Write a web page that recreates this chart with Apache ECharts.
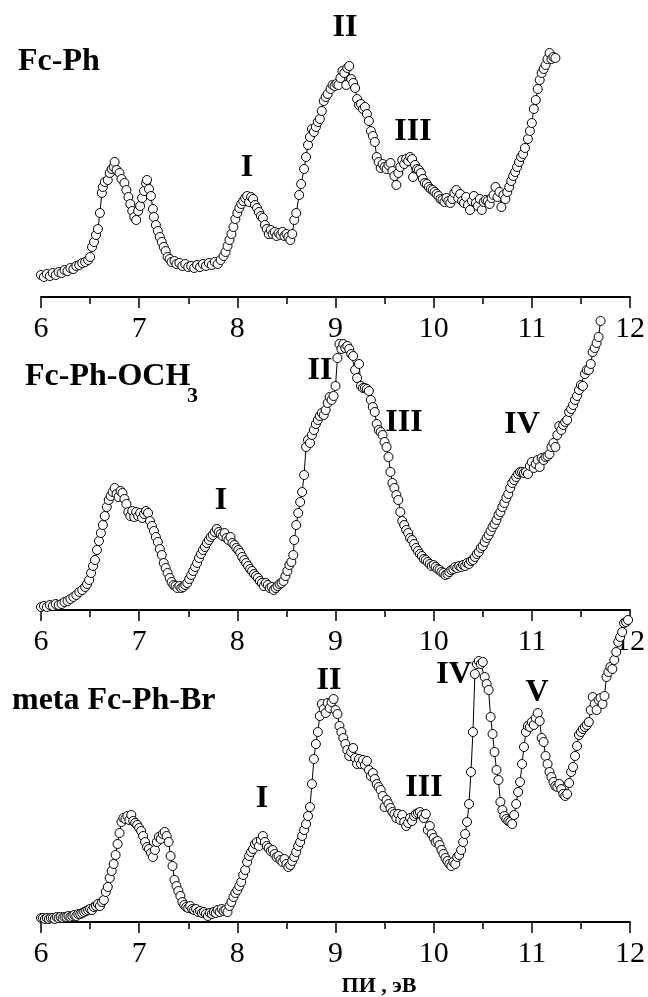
<!DOCTYPE html>
<html>
<head>
<meta charset="utf-8">
<script src="https://cdn.jsdelivr.net/npm/echarts@6/dist/echarts.min.js"></script>
<style>
  html, body { margin: 0; padding: 0; background: #fff; }
  #chart { width: 648px; height: 997px; }
</style>
</head>
<body>
<div id="chart"></div>
<script>
// Photoionization spectra, energy in eV; intensity in arbitrary units.
const ticksEV = [6, 7, 8, 9, 10, 11, 12];

const fcPhX = [6.00,6.03,6.06,6.09,6.12,6.15,6.18,6.21,6.24,6.27,6.30,6.33,6.36,6.39,6.42,6.45,6.48,6.50,6.52,6.54,6.56,6.58,6.60,6.62,6.63,6.65,6.68,6.70,6.72,6.74,6.75,6.77,6.80,6.82,6.85,6.87,6.89,6.91,6.93,6.95,6.97,6.99,7.01,7.03,7.05,7.07,7.08,7.10,7.12,7.14,7.15,7.17,7.19,7.21,7.23,7.25,7.27,7.29,7.31,7.33,7.36,7.38,7.41,7.44,7.47,7.50,7.53,7.56,7.59,7.62,7.65,7.68,7.71,7.74,7.77,7.80,7.83,7.86,7.88,7.90,7.92,7.94,7.96,7.98,8.00,8.02,8.04,8.06,8.08,8.10,8.12,8.14,8.16,8.18,8.20,8.22,8.24,8.26,8.28,8.30,8.32,8.34,8.36,8.38,8.40,8.42,8.44,8.46,8.48,8.50,8.52,8.54,8.56,8.58,8.60,8.63,8.65,8.68,8.70,8.72,8.74,8.76,8.78,8.80,8.82,8.84,8.86,8.88,8.90,8.92,8.95,8.97,8.99,9.01,9.03,9.05,9.07,9.09,9.11,9.12,9.14,9.16,9.18,9.20,9.22,9.24,9.26,9.28,9.30,9.32,9.34,9.36,9.38,9.40,9.42,9.44,9.46,9.48,9.50,9.52,9.54,9.56,9.58,9.60,9.62,9.64,9.66,9.68,9.70,9.72,9.74,9.76,9.78,9.79,9.81,9.83,9.85,9.87,9.89,9.91,9.93,9.95,9.97,9.99,10.01,10.03,10.05,10.07,10.09,10.11,10.13,10.15,10.17,10.19,10.21,10.23,10.25,10.27,10.29,10.31,10.33,10.35,10.37,10.39,10.41,10.43,10.45,10.47,10.49,10.51,10.53,10.55,10.57,10.59,10.61,10.63,10.65,10.67,10.69,10.71,10.73,10.75,10.77,10.79,10.81,10.83,10.85,10.87,10.89,10.91,10.93,10.96,10.98,11.00,11.02,11.04,11.06,11.08,11.10,11.12,11.14,11.16,11.18,11.20,11.22,11.24];
const fcPhY = [22,20,23,21,24,22,25,24,27,26,29,28,31,32,34,35,37,40,50,55,62,68,84,104,110,115,117,124,128,130,135,127,124,118,114,107,100,93,86,80,77,86,91,99,106,114,117,108,101,88,80,72,66,60,55,50,46,40,38,35,36,33,34,31,33,30,31,29,32,30,33,31,34,32,35,33,37,41,45,51,57,63,70,78,84,89,93,96,99,101,95,100,98,92,89,85,81,79,72,68,63,67,63,65,61,64,62,65,61,63,60,57,63,77,84,102,113,128,140,152,160,168,165,170,175,178,186,196,200,203,208,212,211,213,212,219,226,224,212,229,231,218,214,209,198,192,193,188,190,183,176,166,161,155,140,135,129,133,130,128,132,134,126,121,112,124,130,137,133,138,136,140,138,120,132,128,127,124,118,114,113,110,108,107,105,103,101,98,97,95,99,96,94,98,104,107,99,103,96,94,100,92,87,96,101,94,91,98,87,95,97,96,93,99,102,110,100,105,90,102,98,105,110,116,121,125,130,135,140,143,149,158,166,174,188,197,208,217,224,228,232,238,244,238,240,239];

const fcPhOMeX = [6.00,6.03,6.06,6.09,6.12,6.15,6.18,6.21,6.24,6.27,6.30,6.33,6.36,6.39,6.42,6.45,6.47,6.49,6.51,6.53,6.55,6.57,6.59,6.61,6.63,6.65,6.67,6.69,6.71,6.73,6.75,6.77,6.79,6.81,6.83,6.85,6.87,6.89,6.91,6.93,6.95,6.97,6.99,7.01,7.03,7.05,7.07,7.09,7.11,7.13,7.15,7.17,7.19,7.21,7.23,7.25,7.27,7.29,7.31,7.33,7.35,7.37,7.39,7.41,7.43,7.45,7.47,7.49,7.51,7.53,7.55,7.57,7.59,7.61,7.63,7.65,7.67,7.69,7.71,7.73,7.75,7.77,7.79,7.81,7.83,7.85,7.87,7.89,7.91,7.93,7.95,7.97,7.99,8.01,8.03,8.05,8.07,8.09,8.11,8.13,8.15,8.17,8.19,8.21,8.23,8.25,8.27,8.29,8.31,8.33,8.35,8.37,8.39,8.41,8.43,8.45,8.47,8.49,8.51,8.53,8.55,8.57,8.58,8.60,8.62,8.64,8.66,8.68,8.70,8.72,8.74,8.76,8.78,8.80,8.82,8.84,8.86,8.88,8.90,8.92,8.94,8.96,8.98,9.00,9.02,9.04,9.06,9.08,9.10,9.12,9.14,9.16,9.18,9.20,9.22,9.24,9.26,9.28,9.30,9.32,9.34,9.36,9.38,9.40,9.42,9.44,9.46,9.48,9.50,9.52,9.54,9.56,9.58,9.60,9.62,9.64,9.66,9.68,9.70,9.72,9.74,9.76,9.78,9.80,9.82,9.84,9.86,9.88,9.90,9.92,9.94,9.96,9.98,10.00,10.02,10.04,10.06,10.08,10.10,10.12,10.14,10.16,10.18,10.20,10.22,10.24,10.26,10.28,10.30,10.32,10.34,10.36,10.38,10.40,10.42,10.44,10.46,10.48,10.50,10.52,10.54,10.56,10.58,10.60,10.62,10.64,10.66,10.68,10.70,10.72,10.74,10.76,10.78,10.80,10.82,10.84,10.86,10.88,10.90,10.92,10.94,10.96,10.98,11.00,11.02,11.04,11.06,11.08,11.10,11.12,11.14,11.16,11.18,11.20,11.22,11.24,11.26,11.28,11.30,11.32,11.34,11.36,11.38,11.40,11.42,11.44,11.46,11.48,11.50,11.52,11.54,11.56,11.58,11.60,11.62,11.64,11.66,11.68,11.70];
const fcPhOMeY = [3,4,3,5,4,6,5,6,8,9,11,13,15,18,20,23,26,30,37,44,50,60,69,77,85,94,103,110,114,118,122,116,113,119,117,111,106,98,94,99,93,98,94,97,92,96,99,97,89,84,79,73,68,61,55,47,42,37,32,28,25,24,22,24,22,23,25,27,31,35,39,43,47,52,56,60,63,67,70,73,75,78,81,78,76,74,77,72,70,73,67,65,62,60,57,53,50,47,44,41,39,36,34,32,29,27,24,27,25,22,23,20,22,24,26,27,29,34,39,45,48,55,70,85,97,108,118,135,163,170,167,175,180,186,190,194,197,195,200,207,213,210,214,224,252,266,261,266,262,264,261,256,254,240,232,246,224,222,222,221,219,210,203,198,186,180,178,175,168,163,153,138,127,122,115,110,98,89,85,80,77,72,70,66,62,59,56,54,51,50,48,46,44,45,43,41,40,38,37,35,36,38,40,41,43,42,44,43,45,44,47,46,49,50,53,56,58,62,64,68,72,75,79,83,86,90,95,98,103,107,112,116,122,127,130,133,136,138,138,137,138,136,144,148,142,146,150,143,152,150,153,154,156,163,167,163,175,184,180,185,188,190,198,201,205,210,214,220,225,224,236,240,240,246,258,262,267,273,289];

const fcPhBrX = [6.00,6.02,6.04,6.06,6.08,6.10,6.12,6.14,6.16,6.18,6.20,6.22,6.24,6.26,6.28,6.30,6.32,6.34,6.36,6.38,6.40,6.42,6.44,6.46,6.48,6.50,6.52,6.54,6.56,6.58,6.60,6.62,6.64,6.66,6.68,6.70,6.72,6.74,6.76,6.78,6.80,6.82,6.84,6.86,6.88,6.90,6.92,6.94,6.96,6.98,7.00,7.02,7.04,7.06,7.08,7.10,7.12,7.14,7.16,7.18,7.20,7.22,7.24,7.26,7.28,7.30,7.32,7.34,7.36,7.38,7.40,7.42,7.44,7.46,7.48,7.50,7.52,7.54,7.56,7.58,7.60,7.62,7.64,7.66,7.68,7.70,7.72,7.74,7.76,7.78,7.80,7.82,7.84,7.86,7.88,7.90,7.92,7.94,7.96,7.98,8.00,8.02,8.04,8.06,8.08,8.10,8.12,8.14,8.16,8.18,8.20,8.22,8.24,8.26,8.28,8.30,8.32,8.34,8.36,8.38,8.40,8.42,8.44,8.46,8.48,8.50,8.52,8.54,8.56,8.58,8.60,8.62,8.64,8.66,8.68,8.70,8.72,8.74,8.76,8.78,8.80,8.82,8.84,8.86,8.88,8.90,8.92,8.94,8.96,8.98,9.00,9.02,9.04,9.06,9.08,9.10,9.12,9.14,9.16,9.18,9.20,9.22,9.24,9.26,9.28,9.30,9.32,9.34,9.36,9.38,9.40,9.42,9.44,9.46,9.48,9.50,9.52,9.54,9.56,9.58,9.60,9.62,9.64,9.66,9.68,9.70,9.72,9.74,9.76,9.78,9.80,9.82,9.84,9.86,9.88,9.90,9.92,9.94,9.96,9.98,10.00,10.02,10.04,10.06,10.08,10.10,10.12,10.14,10.16,10.18,10.20,10.22,10.24,10.26,10.28,10.30,10.32,10.34,10.36,10.38,10.40,10.42,10.44,10.46,10.48,10.50,10.52,10.54,10.56,10.58,10.60,10.62,10.64,10.66,10.68,10.70,10.72,10.74,10.76,10.78,10.80,10.82,10.84,10.86,10.88,10.90,10.92,10.94,10.96,10.98,11.00,11.02,11.04,11.06,11.08,11.10,11.12,11.14,11.16,11.18,11.20,11.22,11.24,11.26,11.28,11.30,11.32,11.34,11.36,11.38,11.40,11.42,11.44,11.46,11.48,11.50,11.52,11.54,11.56,11.58,11.60,11.62,11.64,11.66,11.68,11.70,11.72,11.74,11.76,11.78,11.80,11.82,11.84,11.86,11.88,11.90,11.92,11.94,11.96,11.98];
const fcPhBrY = [4,4,3,4,3,4,4,3,5,4,5,4,5,5,6,5,6,7,6,8,8,9,10,11,12,13,12,15,16,18,16,20,22,30,35,44,51,58,67,78,89,100,104,103,106,102,107,101,99,97,94,91,86,80,75,73,69,65,72,80,85,83,88,90,86,80,66,56,42,36,31,26,20,17,15,14,16,13,12,13,10,11,9,10,8,6,9,8,10,9,12,10,13,11,12,10,16,20,25,29,32,36,40,47,52,60,66,70,73,78,80,76,82,86,80,76,74,71,72,68,65,66,62,60,63,58,55,57,61,65,70,76,80,86,92,98,106,115,138,163,178,190,206,218,213,209,219,214,220,223,212,208,196,190,184,178,172,166,170,174,164,158,163,158,162,157,161,152,146,149,143,138,135,132,126,115,122,118,114,110,108,104,108,102,107,100,96,99,104,101,106,108,109,110,107,104,108,92,96,88,84,80,81,77,72,68,64,61,58,56,60,58,65,67,72,80,88,100,118,150,190,248,258,261,258,260,245,238,232,205,188,170,152,142,120,112,106,103,101,100,98,107,118,130,140,158,175,190,196,195,200,197,204,209,201,184,180,166,158,150,145,140,136,135,138,133,128,126,128,139,150,155,166,176,187,190,193,195,197,200,212,225,218,212,222,224,218,226,245,250,255,253,262,270,280,285,290,299,300,302];

const pairs = (xs, ys) => xs.map((x, i) => [x, ys[i]]);

const SERIF = '"Liberation Serif", "Times New Roman", serif';
const GRID_TOPS = [7, 320, 632];
const GRID_H = 290;

function xAxisFor(i) {
  return {
    type: 'value', gridIndex: i, min: ticksEV[0], max: ticksEV[ticksEV.length - 1], interval: 1,
    axisLine: { lineStyle: { color: '#000', width: 2 } },
    axisTick: { length: 11, lineStyle: { color: '#000', width: 1.5 } },
    minorTick: { show: true, splitNumber: 2, length: 7, lineStyle: { color: '#000', width: 1.5 } },
    splitLine: { show: false },
    axisLabel: { color: '#000', fontFamily: SERIF, fontSize: 30, margin: 17 }
  };
}
function yAxisFor(i) {
  return { type: 'value', gridIndex: i, min: 0, max: GRID_H, show: false, splitLine: { show: false } };
}
function seriesFor(i, data) {
  return {
    type: 'line', xAxisIndex: i, yAxisIndex: i, data: data,
    symbol: 'circle', symbolSize: 9, showAllSymbol: true, clip: false,
    itemStyle: { color: '#fff', borderColor: '#000', borderWidth: 1 },
    lineStyle: { color: '#000', width: 1 },
    emphasis: { disabled: true }
  };
}

function label(text, x, y, size, align) {
  return {
    type: 'text', x: x, y: y, z: 10,
    style: { text: text, font: 'bold ' + size + 'px ' + SERIF, fill: '#000',
             textAlign: align || 'center', textVerticalAlign: 'middle' }
  };
}

const chart = echarts.init(document.getElementById('chart'), null, { renderer: 'canvas' });
chart.setOption({
  animation: false,
  backgroundColor: '#fff',
  grid: GRID_TOPS.map(t => ({ left: 41, right: 17, top: t, height: GRID_H })),
  xAxis: [0, 1, 2].map(xAxisFor),
  yAxis: [0, 1, 2].map(yAxisFor),
  series: [
    seriesFor(0, pairs(fcPhX, fcPhY)),
    seriesFor(1, pairs(fcPhOMeX, fcPhOMeY)),
    seriesFor(2, pairs(fcPhBrX, fcPhBrY))
  ],
  graphic: [
    label('Fc-Ph', 18, 62, 32, 'left'),
    label('I', 247, 168, 32),
    label('II', 345, 28, 32),
    label('III', 413, 132, 32),

    label('Fc-Ph-OCH', 25, 377, 32, 'left'),
    label('3', 187, 396, 22, 'left'),
    label('II', 320, 371, 32),
    label('I', 221, 501, 32),
    label('III', 404, 423, 32),
    label('IV', 522, 425, 32),

    label('meta Fc-Ph-Br', 12, 701, 32, 'left'),
    label('I', 262, 799, 32),
    label('II', 329, 681, 32),
    label('III', 424, 788, 32),
    label('IV', 454, 675, 32),
    label('V', 537, 693, 32),

    label('ПИ , эВ', 379, 986, 22)
  ]
});
</script>
</body>
</html>
